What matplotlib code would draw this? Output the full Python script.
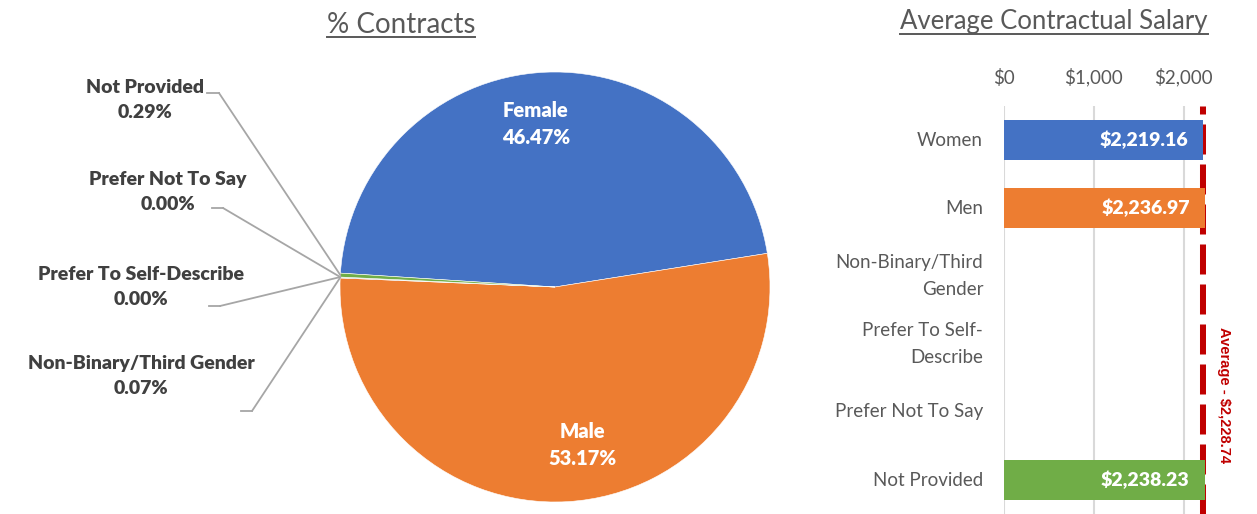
"""Contracts by gender: pie of contract share + bar of average contractual salary."""
import matplotlib
matplotlib.use("Agg")
import matplotlib.pyplot as plt
from matplotlib.lines import Line2D
import numpy as np

plt.rcParams["font.family"] = ["Lato", "DejaVu Sans"]
plt.rcParams["lines.scale_dashes"] = False

# pie data (clockwise order)
pie_labels = ["Female", "Male", "Non-Binary/Third Gender", "Prefer To Self-Describe",
              "Prefer Not To Say", "Not Provided"]
pie_share = [46.47, 53.17, 0.07, 0.00, 0.00, 0.29]
pie_colors = ["#4472C4", "#ED7D31", "#A5A5A5", "#FFC000", "#5B9BD5", "#70AD47"]

# salary data (top to bottom)
sal_labels = ["Women", "Men", "Non-Binary/Third\nGender", "Prefer To Self-\nDescribe",
              "Prefer Not To Say", "Not Provided"]
sal_values = [2219.16, 2236.97, 0, 0, 0, 2238.23]
sal_colors = ["#4472C4", "#ED7D31", "#A5A5A5", "#FFC000", "#5B9BD5", "#70AD47"]
sal_average = 2228.74
sal_ticks = [0, 1000, 2000]

W, H = 1257, 514
TITLE, LABEL, DARK = "#595959", "#595959", "#404040"
fig = plt.figure(figsize=(W / 100, H / 100), dpi=100)


def fx(px, py):
    return px / W, 1 - py / H


# ---- pie ----
cx, cy, r = 555, 287, 215
ax = fig.add_axes([(cx - r) / W, (H - cy - r) / H, 2 * r / W, 2 * r / H])
wedges, _ = ax.pie(pie_share, colors=pie_colors, startangle=176.3, counterclock=False,
                   wedgeprops=dict(edgecolor="white", linewidth=0.4))
ax.set_xlim(-1, 1)
ax.set_ylim(-1, 1)
ax.axis("off")

# inside labels
inside = {0: (536, 124), 1: (582, 445)}
for i, (px, py) in inside.items():
    fig.text(*fx(px, py), f"{pie_labels[i]}\n{pie_share[i]:.2f}%", ha="center", va="center",
             color="white", fontsize=14.5, fontweight="heavy", linespacing=1.5)

# outside labels with leader lines: (text centre, line start x, elbow x, line y)
outside = {5: ((145, 100), 207, 219, 93),
           4: ((168, 192), 212, 223, 208),
           3: ((141, 287), 209, 220, 306),
           2: ((141, 376), 241, 252, 411)}
for i, ((tx, ty), x0, x1, ly) in outside.items():
    fig.text(*fx(tx, ty), f"{pie_labels[i]}\n{pie_share[i]:.2f}%", ha="center", va="center",
             color=DARK, fontsize=14, fontweight="heavy", linespacing=1.55)
    w = wedges[i]
    ang = np.deg2rad((w.theta1 + w.theta2) / 2)
    fig.add_artist(Line2D([x0 / W, x1 / W], [1 - ly / H] * 2, transform=fig.transFigure,
                          color="#A6A6A6", lw=1.3))
    ax.annotate("", xy=(np.cos(ang), np.sin(ang)), xycoords="data",
                xytext=fx(x1, ly), textcoords="figure fraction", annotation_clip=False,
                arrowprops=dict(arrowstyle="-", color="#A6A6A6", lw=1.3,
                                shrinkA=0, shrinkB=0))

# ---- bars ----
bx = fig.add_axes([1004 / W, 0, 202 / W, (H - 106) / H])
y = np.arange(len(sal_labels))
bx.barh(y, sal_values, height=0.58, color=sal_colors, zorder=3)
bx.axvline(sal_average, color="#C00000", lw=6.5, dashes=(21.6, 7.2), zorder=2)
for x in sal_ticks:
    bx.axvline(x, color="#D9D9D9", lw=1.5, zorder=1)
for yi, v in zip(y, sal_values):
    if v > 0:
        bx.text(v - 170, yi, f"${v:,.2f}", ha="right", va="center", color="white",
                fontsize=14, fontweight="heavy", zorder=4)
bx.set_xlim(0, 2250)
bx.set_ylim(len(sal_labels) - 0.5, -0.5)
bx.set_yticks(y, sal_labels)
for t in bx.get_yticklabels():
    t.set_linespacing(1.7)
    t.set_verticalalignment("center")
bx.xaxis.tick_top()
bx.set_xticks(sal_ticks, [f"${t:,}" for t in sal_ticks])
bx.tick_params(length=0, labelsize=13.5, labelcolor=LABEL)
bx.tick_params(axis="x", pad=14)
bx.tick_params(axis="y", pad=15)
for s in bx.spines.values():
    s.set_visible(False)
fig.text(*fx(1224, 395), f"Average - ${sal_average:,.2f}", rotation=270, ha="center",
         va="center", color="#C00000", fontsize=10.5, fontweight="bold",
         family=["Liberation Sans", "DejaVu Sans"])

# ---- underlined titles ----
renderer = fig.canvas.get_renderer()
for (px, py), s, fs in [((401, 25), "% Contracts", 20), ((1054, 22), "Average Contractual Salary", 18.5)]:
    t = fig.text(*fx(px, py), s, ha="center", va="center", color=TITLE, fontsize=fs)
    bb = t.get_window_extent(renderer).transformed(fig.transFigure.inverted())
    fig.add_artist(Line2D([bb.x0, bb.x1], [bb.y0 + 1 / H] * 2, transform=fig.transFigure,
                          color=TITLE, lw=1.4))

fig.savefig("out.png", dpi=100)
